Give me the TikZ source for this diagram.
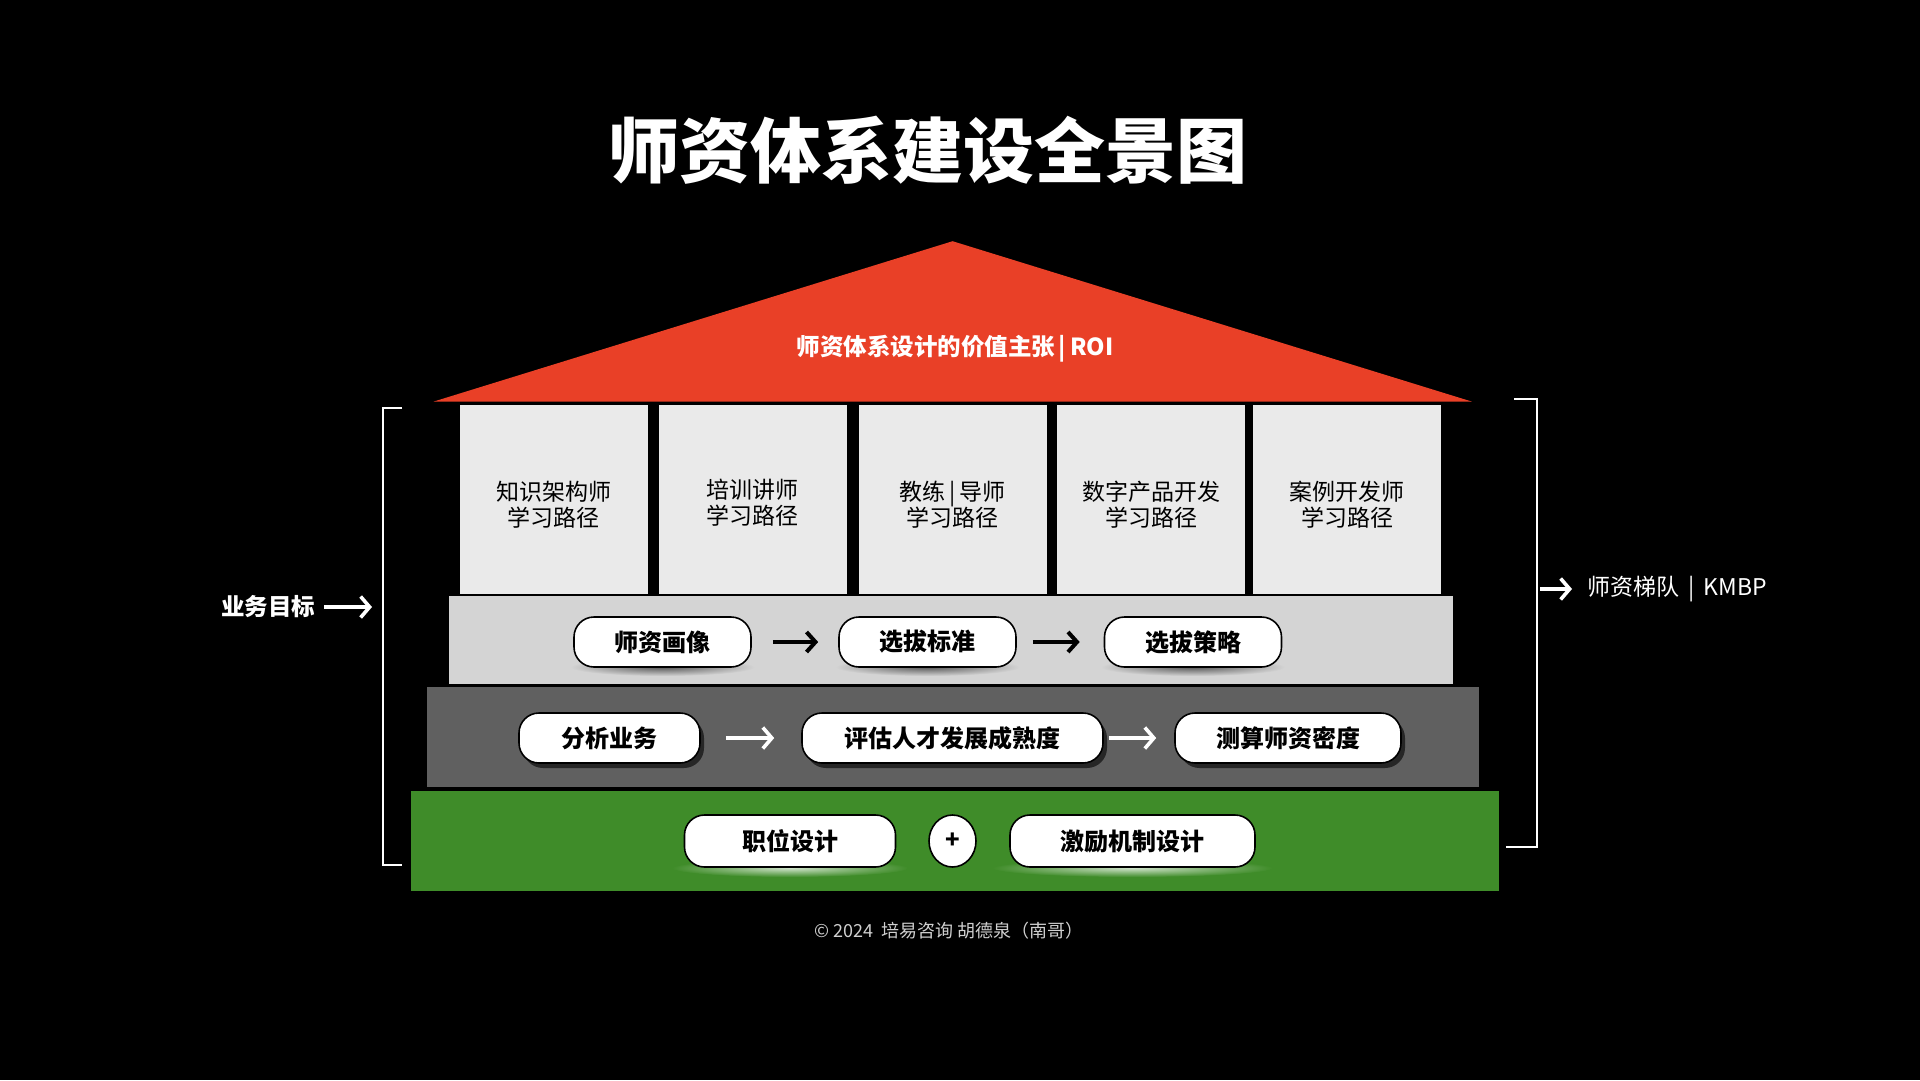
\documentclass[tikz,border=0pt]{standalone}
\usepackage{fontspec}
\setmainfont{Noto Sans CJK SC}
\usetikzlibrary{arrows.meta,shapes.geometric}
\definecolor{roofred}{HTML}{E94027}
\definecolor{pillarc}{HTML}{EAEAEA}
\definecolor{lightband}{HTML}{D4D4D4}
\definecolor{darkband}{HTML}{606060}
\definecolor{greenband}{HTML}{3F8C29}
\definecolor{footc}{HTML}{D0D0D0}
\tikzset{
  pillar/.style={fill=pillarc, draw=none, minimum width=188pt, minimum height=189pt, inner sep=0pt},
  pillartext/.style={align=center, font=\fontsize{23}{26}\selectfont, text=black, inner sep=0pt},
  pill/.style={fill=white, draw=black, line width=1.6pt, rounded corners=20pt, minimum height=50pt,
    inner sep=0pt, font=\bfseries\fontsize{24}{26}\selectfont, text=black},
  blackarrow/.style={draw=black, line width=4pt, -{Straight Barb[length=9pt,width=20pt]}},
  whitearrow/.style={draw=white, line width=3.6pt, -{Straight Barb[length=9pt,width=21pt]}},
  bracketline/.style={draw=white, line width=2pt},
}
\begin{document}
\begin{tikzpicture}[x=1pt,y=-1pt]
\useasboundingbox (0,0) rectangle (1920,1080);
\fill[black] (0,0) rectangle (1920,1080);

% title
\node[text=white, font=\bfseries\fontsize{71}{80}\selectfont] (title) at (928,150) {师资体系建设全景图};

% roof
\fill[roofred] (433.5,401.6) -- (952.6,241.2) -- (1471.9,401.6) -- cycle;
\node[text=white, font=\bfseries\fontsize{23.5}{26}\selectfont] (rooftext) at (955,349) {师资体系设计的价值主张\,|\,ROI};

% pillars
\node[pillar] (c1) at (553.5,499.5) {};
\node[pillar] (c2) at (752.5,499.5) {};
\node[pillar] (c3) at (952.5,499.5) {};
\node[pillar] (c4) at (1151,499.5) {};
\node[pillar] (c5) at (1347,499.5) {};
\node[pillartext] (t1) at ([yshift=-5pt]c1.center) {知识架构师\\学习路径};
\node[pillartext] (t2) at ([yshift=-3pt]c2.center) {培训讲师\\学习路径};
\node[pillartext] (t3) at ([yshift=-5pt]c3.center) {教练\,|\,导师\\学习路径};
\node[pillartext] (t4) at ([yshift=-5pt]c4.center) {数字产品开发\\学习路径};
\node[pillartext] (t5) at ([yshift=-5pt]c5.center) {案例开发师\\学习路径};

% bands
\fill[lightband] (449,596) rectangle (1453,684);
\fill[darkband] (427,687) rectangle (1479,787);
\fill[greenband] (411,791) rectangle (1499,891);

% shadows light band
\foreach \cx in {662.5,927.5,1193}{
  \shade[inner color=black!65, outer color=lightband] (\cx,667) ellipse [x radius=92, y radius=9];
}
% shadows dark band
\fill[black!85, rounded corners=20pt] (523,718) rectangle (704,768);
\fill[black!85, rounded corners=20pt] (806,718) rectangle (1107,768);
\fill[black!85, rounded corners=20pt] (1179.5,718) rectangle (1405,768);
% glow green band
\foreach \cx/\rx in {790/118,1132.5/140}{
  \shade[inner color=white!75!greenband, outer color=greenband] (\cx,868) ellipse [x radius=\rx, y radius=9];
}

% light band pills
\node[pill, minimum width=177pt] (a1) at (662.5,642) {师资画像};
\node[pill, minimum width=177pt] (a2) at (927.5,642) {选拔标准};
\node[pill, minimum width=177pt] (a3) at (1193,642) {选拔策略};
\draw[blackarrow, shorten <=21pt, shorten >=20pt] (a1) -- (a2);
\draw[blackarrow, shorten <=16pt, shorten >=24pt] (a2) -- (a3);

% dark band pills
\node[pill, minimum width=181pt] (b1) at (609.5,738) {分析业务};
\node[pill, minimum width=301pt] (b2) at (952.5,738) {评估人才发展成熟度};
\node[pill, minimum width=226pt] (b3) at (1288,738) {测算师资密度};
\draw[whitearrow, shorten <=25pt, shorten >=27pt] (b1) -- (b2);
\draw[whitearrow, shorten <=5pt, shorten >=18pt] (b2) -- (b3);

% green band pills
\node[pill, minimum width=211pt, minimum height=52pt] (g1) at (790,841) {职位设计};
\node[fill=white, draw=black, line width=1.6pt, ellipse, minimum width=47pt, minimum height=52pt, inner sep=0pt,
  font=\bfseries\fontsize{24}{26}\selectfont] (plus) at (952.5,841) {+};
\node[pill, minimum width=245pt, minimum height=52pt] (g2) at (1132.5,841) {激励机制设计};

% left bracket
\draw[bracketline] (402,408) -- (383,408) -- (383,865) -- (402,865);
\coordinate (lb) at (372,607);
\node[anchor=east, text=white, font=\bfseries\fontsize{23.5}{26}\selectfont] (goal) at (319,607) {业务目标};
\draw[whitearrow] ([xshift=5pt]goal.east) -- (lb);

% right bracket
\draw[bracketline] (1514,399) -- (1537,399) -- (1537,847) -- (1506,847);
\coordinate (rb) at (1540,589);
\node[anchor=west, text=white, font=\fontsize{23}{26}\selectfont] (ladder) at (1584,589) {师资梯队\hspace{9pt}|\hspace{9pt}KMBP};
\draw[whitearrow] (rb) -- ([xshift=-12pt]ladder.west);

% footer
\node[text=footc, font=\fontsize{18}{21}\selectfont] (foot) at (949,931) {© 2024\hspace{8pt}培易咨询 胡德泉（南哥）};
\end{tikzpicture}
\end{document}
